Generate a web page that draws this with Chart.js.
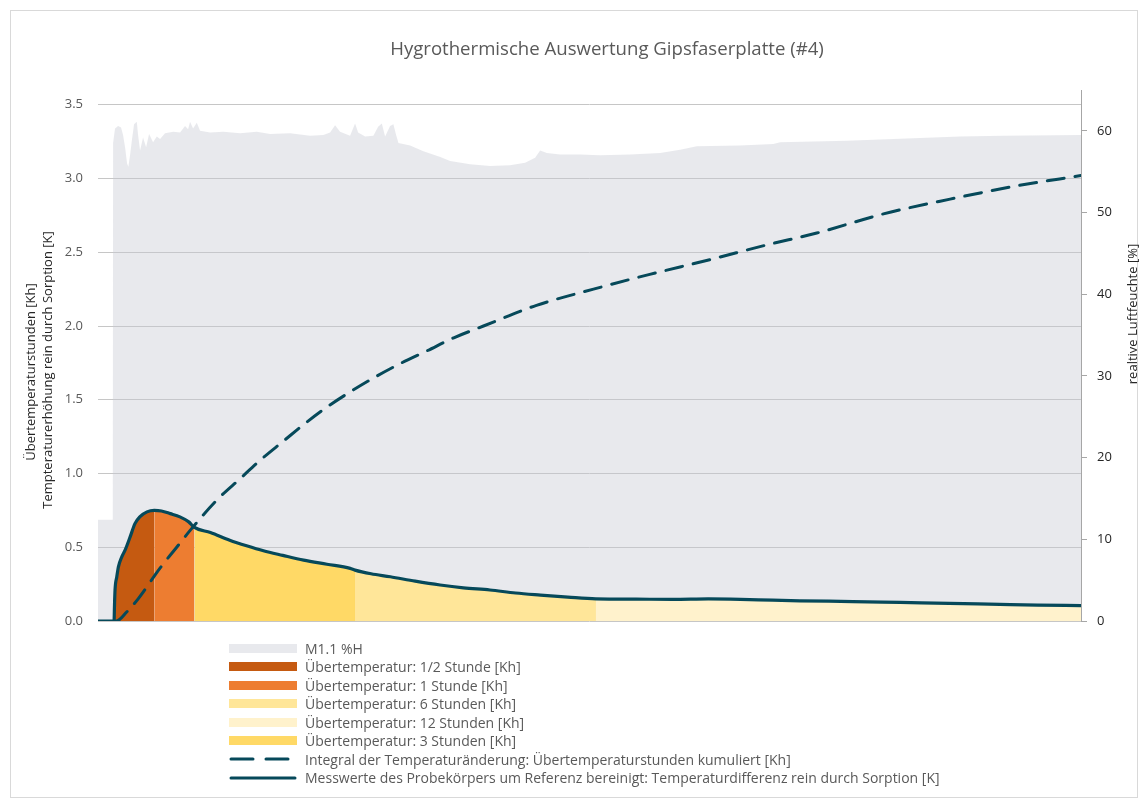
<!DOCTYPE html>
<html>
<head>
<meta charset="utf-8">
<script src="https://cdn.jsdelivr.net/npm/chart.js@4.4.1/dist/chart.umd.min.js"></script>
<style>
  html, body { margin: 0; padding: 0; background: #fff; }
  #wrap { position: relative; width: 1147px; height: 805px; font-family: "Open Sans", Lato, sans-serif; }
  #frame { position: absolute; left: 10px; top: 10px; width: 1126px; height: 786px; border: 1px solid #d9d9d9; pointer-events: none; }
  #title { position: absolute; left: 607px; top: 47px; transform: translate(-50%, -50%); white-space: nowrap; font-size: 18.6px; color: #595959; }
  .axis-title { position: absolute; white-space: nowrap; font-size: 13px; color: #262626; transform: translate(-50%, -50%) rotate(-90deg); }
  #legend { position: absolute; left: 229px; top: 639px; font-size: 14px; color: #595959; }
  .row { display: flex; align-items: center; height: 18.5px; }
  .sw { display: inline-block; width: 68px; height: 9px; margin-right: 8px; }
  .row svg { margin-right: 8px; }
</style>
</head>
<body>
<div id="wrap">
  <canvas id="chart"></canvas>
  <div id="frame"></div>
  <div id="title">Hygrothermische Auswertung Gipsfaserplatte (#4)</div>
  <div class="axis-title" style="left:30px; top:372px;">Übertemperaturstunden [Kh]</div>
  <div class="axis-title" style="left:47px; top:370px;">Tempteraturerhöhung rein durch Sorption [K]</div>
  <div class="axis-title" style="left:1132px; top:314px;">realtive Luftfeuchte [%]</div>
  <div id="legend"></div>
</div>
<script>
// ── Data (time in hours since start of sorption) ──
const tempTime = [-0.2, 0, 0.005, 0.012, 0.034, 0.054, 0.096, 0.137, 0.2, 0.26, 0.32, 0.41, 0.5,
  0.59, 0.7, 0.82, 0.93, 1, 1.2, 1.44, 1.65, 1.86, 2.1, 2.36, 2.65, 2.94, 3, 3.2, 3.44, 3.75,
  4.06, 4.35, 4.68, 5.0, 5.31, 5.65, 6, 6.5, 6.96, 7.4, 7.8, 8.2, 8.54, 9.2, 9.79, 10.4, 11.03,
  11.5, 12.04];
const tempValues = [0, 0, 0.1, 0.21, 0.3, 0.367, 0.435, 0.48, 0.57, 0.66, 0.706, 0.74, 0.75,
  0.746, 0.728, 0.706, 0.672, 0.635, 0.6, 0.548, 0.51, 0.476, 0.445, 0.413, 0.385, 0.357, 0.345,
  0.32, 0.3, 0.27, 0.244, 0.225, 0.21, 0.19, 0.176, 0.162, 0.15, 0.148, 0.147, 0.15, 0.147,
  0.141, 0.137, 0.132, 0.126, 0.12, 0.113, 0.108, 0.104];

const integralTime = [0, 0.03, 0.16, 0.3, 0.57, 0.78, 0.95, 1.28, 1.57, 1.82, 2.11, 2.38, 2.65,
  2.96, 3.27, 3.58, 3.89, 4.23, 4.6, 5.26, 5.97, 6.67, 7.42, 8.13, 8.75, 9.58, 10.41, 11.24, 12.04];
const integralValues = [0, 0, 0.063, 0.15, 0.357, 0.5, 0.616, 0.82, 0.965, 1.09, 1.22, 1.34,
  1.45, 1.56, 1.66, 1.75, 1.83, 1.92, 2.0, 2.14, 2.25, 2.35, 2.45, 2.55, 2.63, 2.76, 2.86, 2.95, 3.02];

const humTime = [-0.2, -0.016, -0.012, 0.012, 0.05, 0.087, 0.112, 0.137, 0.162, 0.178, 0.199,
  0.224, 0.249, 0.283, 0.299, 0.324, 0.361, 0.399, 0.436, 0.486, 0.532, 0.573, 0.635, 0.738,
  0.822, 0.884, 0.922, 0.946, 0.984, 1.03, 1.071, 1.196, 1.361, 1.569, 1.777, 1.943, 2.192,
  2.441, 2.606, 2.69, 2.752, 2.814, 2.939, 3.001, 3.039, 3.126, 3.229, 3.288, 3.334, 3.375,
  3.437, 3.478, 3.512, 3.541, 3.686, 3.852, 4.062, 4.184, 4.433, 4.682, 4.932, 5.118, 5.243,
  5.305, 5.389, 5.554, 5.803, 6.052, 6.426, 6.8, 7.049, 7.257, 7.792, 8.21, 8.294, 9.124,
  9.954, 10.535, 11.067, 12.04];
const humValues = [12.4, 12.4, 58.5, 60.3, 60.6, 60.4, 59.5, 58.0, 56.0, 55.6, 57.0,
  59.0, 60.8, 61.1, 59.5, 57.6, 59.2, 58.0, 59.6, 58.6, 59.3, 59.0, 59.7, 59.9,
  59.8, 60.6, 60.2, 61.1, 60.3, 61.0, 60.0, 59.8, 59.9, 59.7, 59.9, 59.6, 59.7,
  59.4, 59.5, 59.8, 60.7, 59.9, 59.4, 60.9, 59.8, 59.3, 59.4, 60.5, 60.9, 59.3,
  60.6, 60.8, 59.5, 58.5, 58.2, 57.5, 56.8, 56.3, 55.9, 55.7, 55.8, 56.1, 56.7,
  57.6, 57.3, 57.1, 57.1, 57.0, 57.1, 57.3, 57.7, 58.1, 58.2, 58.4, 58.6, 58.8,
  59.1, 59.3, 59.4, 59.5];

const periodLabels = [
  "Übertemperatur: 1/2 Stunde [Kh]",
  "Übertemperatur: 1 Stunde [Kh]",
  "Übertemperatur: 6 Stunden [Kh]",
  "Übertemperatur: 12 Stunden [Kh]",
  "Übertemperatur: 3 Stunden [Kh]",
];
const periodStart = [0, 0.5, 3, 6, 1];
const periodEnd = [0.5, 1, 6, 12.04, 3];

const leftTicks = [0, 0.5, 1, 1.5, 2, 2.5, 3, 3.5];
const rightTicks = [0, 10, 20, 30, 40, 50, 60];

// ── Styles ──
const TEAL = "#06495a";
const periodColors = ["#c55a11", "#ed7d31", "#ffe699", "#fff2cc", "#ffd966"];

Chart.defaults.font.family = "'Open Sans', Lato, sans-serif";
Chart.defaults.font.size = 13;

const toPts = (xs, ys) => xs.map((x, i) => ({ x, y: ys[i] }));
const tempPts = toPts(tempTime, tempValues);

const periodSets = periodLabels.map((label, i) => ({
  label,
  data: tempPts.filter((p) => p.x >= periodStart[i] && p.x <= periodEnd[i]),
  yAxisID: "y",
  fill: "origin",
  backgroundColor: periodColors[i],
  borderWidth: 0,
  pointRadius: 0,
  cubicInterpolationMode: "monotone",
  order: 5,
}));

const keepTicks = (list) => (scale) => {
  scale.ticks = list.map((v) => ({ value: v }));
};

const chart = new Chart(document.getElementById("chart"), {
  type: "line",
  data: {
    datasets: [
      {
        label: "M1.1 %H",
        data: toPts(humTime, humValues),
        yAxisID: "y2",
        fill: "origin",
        backgroundColor: "rgba(197,200,210,0.4)",
        borderWidth: 0,
        pointRadius: 0,
        tension: 0,
        order: 10,
      },
      ...periodSets,
      {
        label: "Integral der Temperaturänderung: Übertemperaturstunden kumuliert [Kh]",
        data: toPts(integralTime, integralValues),
        yAxisID: "y",
        borderColor: TEAL,
        borderWidth: 3,
        borderDash: [17, 11],
        borderCapStyle: "round",
        pointRadius: 0,
        fill: false,
        cubicInterpolationMode: "monotone",
        order: 2,
      },
      {
        label: "Messwerte des Probekörpers um Referenz bereinigt: Temperaturdifferenz rein durch Sorption [K]",
        data: tempPts,
        yAxisID: "y",
        borderColor: TEAL,
        borderWidth: 3.2,
        pointRadius: 0,
        fill: false,
        cubicInterpolationMode: "monotone",
        order: 1,
      },
    ],
  },
  options: {
    responsive: true,
    maintainAspectRatio: false,
    animation: false,
    layout: { padding: { top: 90, left: 0, right: 0, bottom: 184 } },
    plugins: {
      legend: { display: false },
      tooltip: { enabled: false },
    },
    scales: {
      x: { type: "linear", min: -0.2, max: 12.04, display: false },
      y: {
        position: "left",
        min: 0,
        max: 3.6,
        afterBuildTicks: keepTicks(leftTicks),
        afterFit: (s) => { s.width = 98; },
        border: { display: false },
        grid: { color: "#c6c6c6", drawTicks: false },
        ticks: { padding: 15, color: "#595959", callback: (v) => v.toFixed(1) },
      },
      y2: {
        position: "right",
        min: 0,
        max: 65,
        afterBuildTicks: keepTicks(rightTicks),
        afterFit: (s) => { s.width = 66; },
        border: { color: "#a6a6a6" },
        grid: { drawOnChartArea: false, color: "#a6a6a6", tickLength: 6 },
        ticks: { padding: 10, color: "#262626" },
      },
    },
  },
});

// ── Legend (one item per row) ──
const legendBox = document.getElementById("legend");
chart.data.datasets.forEach((ds) => {
  const row = document.createElement("div");
  row.className = "row";
  let sw;
  if (ds.fill) {
    sw = `<span class="sw" style="background:${ds.backgroundColor}"></span>`;
  } else {
    const dash = ds.borderDash ? 'stroke-dasharray="22 13"' : "";
    sw = `<svg width="68" height="10"><line x1="2" y1="5" x2="66" y2="5" stroke="${ds.borderColor}" stroke-width="3" stroke-linecap="round" ${dash}/></svg>`;
  }
  row.innerHTML = sw + `<span>${ds.label}</span>`;
  legendBox.appendChild(row);
});
</script>
</body>
</html>
